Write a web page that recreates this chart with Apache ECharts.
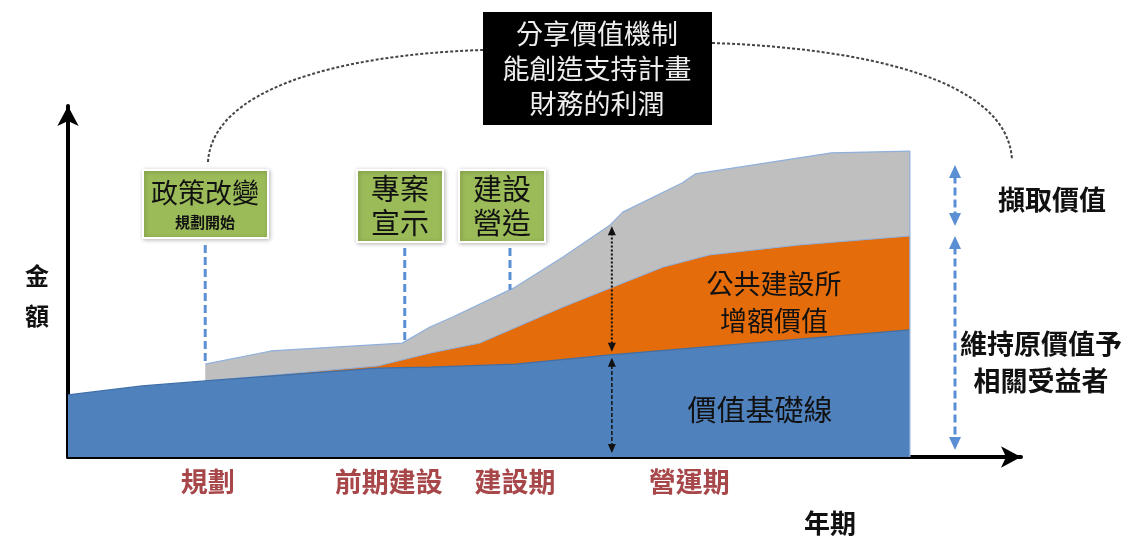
<!DOCTYPE html>
<html><head><meta charset="utf-8">
<script src="https://cdn.jsdelivr.net/npm/echarts@6/dist/echarts.min.js"></script>
<style>html,body{margin:0;padding:0;background:#fff}#c{width:1139px;height:537px}</style>
</head><body><div id="c"></div>
<script>
// ---- data (x = time index 0..100, y = relative amount) ----
const xBaseline = [0, 8.8, 16.3, 36.8, 43.0, 53.2, 64.4, 100];
const baseline  = [17.4, 19.9, 21.3, 24.9, 25.2, 26.0, 28.6, 35.6];

const xPublic   = [16.3, 36.8, 43.0, 48.9, 58.8, 64.4, 70.7, 76.2, 86.9, 100];
const withPublic= [21.3, 25.5, 29.1, 31.9, 42.0, 47.3, 53.2, 56.6, 59.4, 61.9];

const xTotal    = [16.3, 24.1, 39.7, 43.0, 45.7, 52.9, 58.8, 64.4, 65.9, 73.0, 74.5, 90.7, 100];
const total     = [26.0, 29.7, 31.9, 36.4, 39.2, 47.3, 56.0, 65.0, 68.6, 76.8, 79.3, 85.2, 85.7];

const phaseLabels = ['規劃', '前期建設', '建設期', '營運期'];
const phaseX      = [16.6, 38.1, 53.1, 73.8];

const eventLabels = [['政策改變', '規劃開始'], ['專案', '宣示'], ['建設', '營造']];
const eventX      = [16.3, 40.0, 52.5];
const markerX     = 64.6;

const FONT = '"Noto Sans CJK TC", "Noto Sans CJK SC", sans-serif';
const pair = (xs, ys) => xs.map((x, i) => [x, ys[i]]);

const chart = echarts.init(document.getElementById('c'));
const option = {
  animation: false,
  backgroundColor: '#fff',
  grid: { left: 68, right: 118, top: 106, bottom: 80 },
  xAxis: {
    type: 'value', min: 0, max: 113.2,
    axisLine: { show: true, onZero: false, symbol: ['none', 'arrow'], symbolSize: [16, 20],
      lineStyle: { color: '#000', width: 4 } },
    axisTick: { show: false }, axisLabel: { show: false }, splitLine: { show: false }
  },
  yAxis: {
    type: 'value', min: 0, max: 98.32,
    axisLine: { show: true, onZero: false, symbol: ['none', 'arrow'], symbolSize: [16, 20],
      lineStyle: { color: '#000', width: 4 } },
    axisTick: { show: false }, axisLabel: { show: false }, splitLine: { show: false }
  },
  series: [
    { type: 'line', name: '擷取價值', data: pair(xTotal, total), symbol: 'none',
      lineStyle: { color: '#8fb0dc', width: 1.2 }, areaStyle: { color: '#bfbfbf', opacity: 1 }, z: 1 },
    { type: 'line', name: '公共建設所增額價值', data: pair(xPublic, withPublic), symbol: 'none',
      lineStyle: { color: '#8fb0dc', width: 1 }, areaStyle: { color: '#e46c0a', opacity: 1 }, z: 2 },
    { type: 'line', name: '價值基礎線', data: pair(xBaseline, baseline), symbol: 'none',
      lineStyle: { color: '#3f6fa8', width: 1.2 }, areaStyle: { color: '#4f81bd', opacity: 1 }, z: 3 }
  ]
};
chart.setOption(option);

function interp(xs, ys, x) {
  for (let i = 0; i < xs.length - 1; i++) {
    if (x >= xs[i] && x <= xs[i + 1]) return ys[i] + (ys[i + 1] - ys[i]) * (x - xs[i]) / (xs[i + 1] - xs[i]);
  }
  return ys[ys.length - 1];
}
const px = (x, y) => chart.convertToPixel({ gridIndex: 0 }, [x, y]);

function seg(x1, y1, x2, y2, color, w, dash) {
  return { type: 'line', z: 10, shape: { x1, y1, x2, y2 }, style: { stroke: color, lineWidth: w, lineDash: dash || null } };
}
function head(x, y, dir, color, w, h) {
  const pts = dir === 'up' ? [[x, y], [x - w / 2, y + h], [x + w / 2, y + h]] : [[x, y], [x - w / 2, y - h], [x + w / 2, y - h]];
  return { type: 'polygon', z: 11, shape: { points: pts }, style: { fill: color } };
}
function dArrow(x, y1, y2, color, w, dash, hw, hh) {
  return [seg(x, y1 + hh * 0.8, x, y2 - hh * 0.8, color, w, dash), head(x, y1, 'up', color, hw, hh), head(x, y2, 'down', color, hw, hh)];
}
function txt(x, y, text, size, opts) {
  opts = opts || {};
  return { type: 'text', z: 20, x, y, style: { text, fill: opts.fill || '#111', fontSize: size,
    fontWeight: opts.bold ? 'bold' : 'normal', fontFamily: FONT, align: 'center', verticalAlign: 'middle',
    lineHeight: opts.lh || size * 1.4 } };
}
function box(x, y, w, h, fill) {
  return { type: 'rect', z: 9, shape: { x, y, width: w, height: h },
    style: { fill, stroke: '#ffffff', lineWidth: 2, shadowBlur: 4, shadowColor: 'rgba(0,0,0,0.25)', shadowOffsetX: 1, shadowOffsetY: 1 } };
}

const g = [];
// black top box
g.push({ type: 'rect', z: 9, shape: { x: 483, y: 12, width: 229, height: 113 }, style: { fill: '#000' } });
g.push(txt(597, 69, '分享價值機制\n能創造支持計畫\n財務的利潤', 27, { fill: '#eeeeee', lh: 35 }));
// dotted arcs
g.push({ type: 'bezierCurve', z: 8, shape: { x1: 208, y1: 162, cpx1: 212, cpy1: 92, cpx2: 330, cpy2: 55, x2: 483, y2: 50 },
  style: { stroke: '#444', lineWidth: 2, lineDash: [3, 2], fill: null } });
g.push({ type: 'bezierCurve', z: 8, shape: { x1: 712, y1: 43, cpx1: 860, cpy1: 48, cpx2: 1008, cpy2: 78, x2: 1012, y2: 160 },
  style: { stroke: '#444', lineWidth: 2, lineDash: [3, 2], fill: null } });

// green event boxes
const boxes = [[143, 170, 125, 68], [357, 170, 86, 72], [459, 170, 86, 72]];
boxes.forEach((b) => g.push(box(b[0], b[1], b[2], b[3], '#9bbb59')));
g.push(txt(205, 193, eventLabels[0][0], 27));
g.push(txt(205, 222, eventLabels[0][1], 15, { bold: true }));
g.push(txt(400, 206, eventLabels[1].join('\n'), 29, { lh: 34 }));
g.push(txt(502, 206, eventLabels[2].join('\n'), 29, { lh: 34 }));

// dashed blue drop lines from event boxes down to the total value line
const dropTop = [245, 248, 248];
eventX.forEach((ex, i) => {
  const p = px(ex, interp(xTotal, total, ex));
  g.push(seg(p[0], dropTop[i], p[0], p[1], '#5b8fd4', 3, [8, 4]));
});

// dotted black double arrows at marker
const pTop = px(markerX, interp(xTotal, total, markerX));
const pMid = px(markerX, interp(xBaseline, baseline, markerX));
const pBot = px(markerX, 0);
g.push(...dArrow(pTop[0], pTop[1] + 3, pMid[1] - 3, '#111', 2, [2, 2], 8, 9));
g.push(...dArrow(pTop[0], pMid[1] + 3, pBot[1] - 4, '#111', 1.5, [4, 2], 8, 9));

// right edge light-blue line
const pR1 = px(100, total[total.length - 1]);
const pR2 = px(100, 0);
g.push(seg(pR1[0], pR1[1], pR2[0], pR2[1], '#8fb0dc', 1.2));

// right side blue dashed arrows
g.push(...dArrow(955, 165, 226, '#5b8fd4', 3, [8, 4], 12, 13));
g.push(...dArrow(955, 236, 450, '#5b8fd4', 3, [8, 4], 12, 13));
g.push(txt(1052, 200, '擷取價值', 27, { bold: true }));
g.push(txt(1041, 362, '維持原價值予\n相關受益者', 27, { bold: true, lh: 37 }));

// area labels
g.push(txt(774, 302, '公共建設所\n增額價值', 27, { lh: 37 }));
g.push(txt(760, 410, '價值基礎線', 29));

// axis names
g.push(txt(37, 296, '金\n額', 24, { bold: true, lh: 40 }));
g.push(txt(830, 523, '年期', 26, { bold: true }));

// phase labels
phaseLabels.forEach((t, i) => {
  const p = px(phaseX[i], 0);
  g.push(txt(p[0], 482, t, 27, { bold: true, fill: '#a8474a' }));
});

chart.setOption({ graphic: g });
</script></body></html>
